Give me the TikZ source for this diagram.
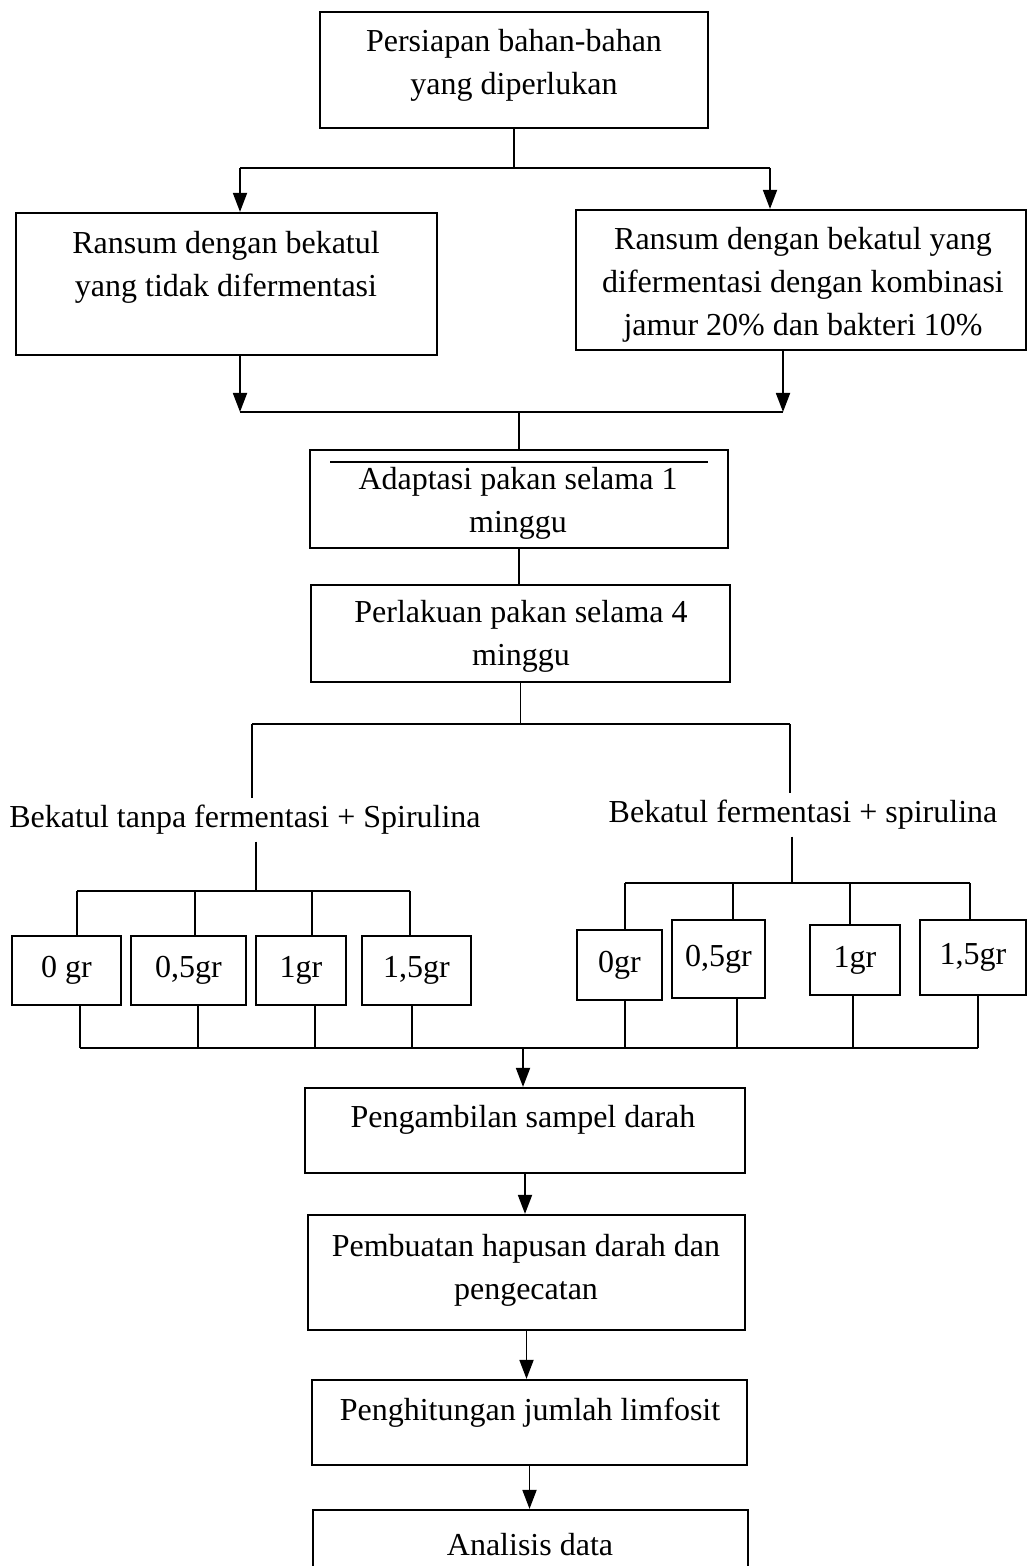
\documentclass[tikz,border=0pt]{standalone}
\usepackage{fontspec}
\setmainfont{Liberation Serif}
\usetikzlibrary{arrows.meta}
\begin{document}
\begin{tikzpicture}[x=0.5pt,y=-0.5pt, line width=0.9pt,
  box/.style={draw, line width=1.1pt, inner sep=0pt, font=\fontsize{16}{21.5}\selectfont},
  lbl/.style={align=center, inner sep=0pt, font=\fontsize{16}{21.5}\selectfont},
  grp/.style={align=center, inner sep=3pt, font=\fontsize{16}{21.5}\selectfont},
  arr/.style={-{Triangle[length=9.5pt,width=7pt]}}]
\clip (0,0) rectangle (1028,1566);
\fill[white] (0,0) rectangle (1028,1566);

% main boxes
\node[box, minimum width=194pt, minimum height=58pt] (b1) at (514,70) {};
\node[lbl] (b1t) at (514,65) {Persiapan bahan-bahan\\yang diperlukan};
\node[box, minimum width=210.5pt, minimum height=71pt] (L) at (226.5,284) {};
\node[lbl] (Lt) at (226,267) {Ransum dengan bekatul\\yang tidak difermentasi};
\node[box, minimum width=225pt, minimum height=70pt] (R) at (801,280) {};
\node[lbl] (Rt) at (803,285) {Ransum dengan bekatul yang\\difermentasi dengan kombinasi\\jamur 20\% dan bakteri 10\%};
\node[box, minimum width=209pt, minimum height=49pt] (b3) at (519,499) {};
\node[lbl] (b3t) at (518,503) {Adaptasi pakan selama 1\\minggu};
\draw[line width=0.8pt] (330,462) -- (708,462);
\node[box, minimum width=209.5pt, minimum height=48.5pt] (b4) at (520.5,633.5) {};
\node[lbl] (b4t) at (521,636) {Perlakuan pakan selama 4\\minggu};

% group labels
\node[grp] (gL) at (245,820) {Bekatul tanpa fermentasi + Spirulina};
\node[grp] (gR) at (803,815) {Bekatul fermentasi + spirulina};

% small boxes left
\node[box, minimum width=54.5pt, minimum height=34.5pt] (s1) at (66.5,970.5) {0 gr};
\node[box, minimum width=57.5pt, minimum height=34.5pt] (s2) at (188.5,970.5) {0,5gr};
\node[box, minimum width=45pt, minimum height=34.5pt] (s3) at (301,970.5) {1gr};
\node[box, minimum width=54.5pt, minimum height=34.5pt] (s4) at (416.5,970.5) {1,5gr};
% small boxes right
\node[box, minimum width=42.5pt, minimum height=35pt] (t1) at (619.5,965) {0gr};
\node[box, minimum width=46.5pt, minimum height=39pt] (t2) at (718.5,959) {0,5gr};
\node[box, minimum width=45pt, minimum height=35pt] (t3) at (855,960) {1gr};
\node[box, minimum width=53pt, minimum height=37.5pt] (t4) at (973,957.5) {1,5gr};

% lower boxes
\node[box, minimum width=220pt, minimum height=42.5pt] (b5) at (525,1130.5) {};
\node[lbl] (b5t) at (523,1120) {Pengambilan sampel darah};
\node[box, minimum width=218.5pt, minimum height=57.5pt] (b6) at (526.5,1272.5) {};
\node[lbl] (b6t) at (526,1270) {Pembuatan hapusan darah dan\\pengecatan};
\node[box, minimum width=217.5pt, minimum height=42.5pt] (b7) at (529.5,1422.5) {};
\node[lbl] (b7t) at (530,1413) {Penghitungan jumlah limfosit};
\node[box, minimum width=217.5pt, minimum height=45pt] (b8) at (530.5,1555) {};
\node[lbl] (b8t) at (530,1545) {Analisis data};

% junction coordinates
\coordinate (sL) at (240,168);
\coordinate (sR) at (770,168);
\coordinate (mL) at (240,412);
\coordinate (mR) at (783,412);
\coordinate (qL) at (252,724);
\coordinate (qR) at (790,724);
\coordinate (kL) at (256,891);
\coordinate (kR) at (792,883);
\coordinate (dL1) at (77,891);
\coordinate (dL2) at (195,891);
\coordinate (dL3) at (312,891);
\coordinate (dL4) at (410,891);
\coordinate (dR1) at (625,883);
\coordinate (dR2) at (733,883);
\coordinate (dR3) at (850,883);
\coordinate (dR4) at (970,883);
\coordinate (eL1) at (80,1048);
\coordinate (eL2) at (198,1048);
\coordinate (eL3) at (315,1048);
\coordinate (eL4) at (412,1048);
\coordinate (eR1) at (625,1048);
\coordinate (eR2) at (737,1048);
\coordinate (eR3) at (853,1048);
\coordinate (eR4) at (978,1048);
\coordinate (c) at (523,1048);

% connectors top
\draw (b1.south) -- (b1.south |- sL);
\draw (sL) -- (sR);
\draw[arr] (sL) -- (sL |- L.north);
\draw[arr] (sR) -- (sR |- R.north);
\draw[arr] (L.south -| mL) -- (mL);
\draw[arr] (R.south -| mR) -- (mR);
\draw (mL) -- (mR);
\draw (b3.north |- mL) -- (b3.north);
\draw (b3.south) -- (b3.south |- b4.north);
\draw (b4.south) -- (b4.south |- qL);
\draw (qL) -- (qR);
\draw (qL) -- (qL |- gL.north);
\draw (qR) -- (qR |- gR.north);

% left group
\draw (kL |- gL.south) -- (kL);
\draw (dL1) -- (dL4);
\draw (dL1) -- (dL1 |- s1.north);
\draw (dL2) -- (dL2 |- s2.north);
\draw (dL3) -- (dL3 |- s3.north);
\draw (dL4) -- (dL4 |- s4.north);
% right group
\draw (kR |- gR.south) -- (kR);
\draw (dR1) -- (dR4);
\draw (dR1) -- (dR1 |- t1.north);
\draw (dR2) -- (dR2 |- t2.north);
\draw (dR3) -- (dR3 |- t3.north);
\draw (dR4) -- (dR4 |- t4.north);

% merge bottom
\draw (s1.south -| eL1) -- (eL1);
\draw (s2.south -| eL2) -- (eL2);
\draw (s3.south -| eL3) -- (eL3);
\draw (s4.south -| eL4) -- (eL4);
\draw (t1.south -| eR1) -- (eR1);
\draw (t2.south -| eR2) -- (eR2);
\draw (t3.south -| eR3) -- (eR3);
\draw (t4.south -| eR4) -- (eR4);
\draw (eL1) -- (eR4);
\draw[arr] (c) -- (c |- b5.north);

% lower chain
\draw[arr] (b5.south) -- (b5.south |- b6.north);
\draw[arr] (b6.south) -- (b6.south |- b7.north);
\draw[arr] (b7.south) -- (b7.south |- b8.north);
\end{tikzpicture}
\end{document}
